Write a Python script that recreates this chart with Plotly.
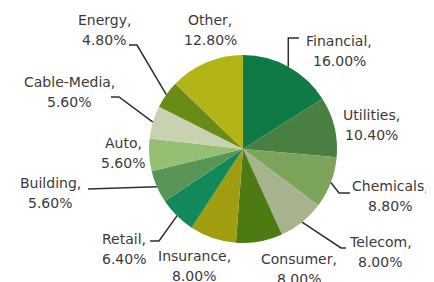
import math
import plotly.graph_objects as go

sectors = ["Financial", "Utilities", "Chemicals", "Telecom", "Consumer", "Insurance",
           "Retail", "Building", "Auto", "Cable-Media", "Energy", "Other"]
weights = [16.00, 10.40, 8.80, 8.00, 8.00, 8.00, 6.40, 5.60, 5.60, 5.60, 4.80, 12.80]
colors = ["#0f7a45", "#4a7f44", "#7ba45a", "#a7b38c", "#4e7a14", "#a09e10",
          "#12895a", "#5a9558", "#96bf74", "#c8d2b0", "#6a8c16", "#b2b515"]

# page offset (browser body margin) and figure size
OFF = 8
W, H = 434 - OFF, 282 - OFF
CX, CY, R = 243, 149, 94

# label block centers (window pixels) and leader elbows (window pixels), layout only
label_pos = {
    "Financial": (339, 51), "Utilities": (371, 125), "Chemicals": (390, 196),
    "Telecom": (380, 252), "Consumer": (299, 269), "Insurance": (194, 266),
    "Retail": (124, 249), "Building": (50, 193), "Auto": (123, 153),
    "Cable-Media": (69, 92), "Energy": (104, 30), "Other": (210, 30),
}
leaders = {
    "Financial": [(299, 38), "elbow_x"],
    "Chemicals": [(350, 193), (339, 193)],
    "Telecom": [(346, 248), (341, 248)],
    "Retail": [(150, 241), (159, 241)],
    "Building": [(88, 189)],
    "Cable-Media": [(111, 97), (119, 97)],
    "Energy": [(129, 45), (137, 45)],
}
LINE_GAP = 20


def px(x):
    return (x - OFF) / W


def py(y):
    return 1 - (y - OFF) / H


fig = go.Figure(go.Pie(
    labels=sectors, values=weights, sort=False, direction="clockwise", rotation=0,
    marker=dict(colors=colors, line=dict(width=0)),
    textinfo="none", hoverinfo="label+percent", showlegend=False,
    domain=dict(x=[px(CX - R), px(CX + R)], y=[py(CY + R), py(CY - R)]),
))

total = sum(weights)
cum = 0
annotations = []
shapes = []
font = dict(family="DejaVu Sans", size=14, color="#3a3a3a")
for name, v in zip(sectors, weights):
    mid = (cum + v / 2) / total * 2 * math.pi
    cum += v
    ex = CX + math.sin(mid) * R
    ey = CY - math.cos(mid) * R
    lx, ly = label_pos[name]
    for txt, dy in ((f"{name},", -LINE_GAP / 2), (f"{v:.2f}%", LINE_GAP / 2)):
        annotations.append(dict(
            x=px(lx), y=py(ly + dy), xref="paper", yref="paper", showarrow=False,
            text=txt, font=font, xanchor="center", yanchor="middle"))
    if name in leaders:
        pts = []
        for p in leaders[name]:
            if p == "elbow_x":
                pts.append((ex, leaders[name][0][1]))
            else:
                pts.append(p)
        pts.append((ex, ey))
        path = "M " + " L ".join(f"{px(a)},{py(b)}" for a, b in pts)
        shapes.append(dict(type="path", path=path, xref="paper", yref="paper",
                           line=dict(color="#2e2e2e", width=1.5)))

fig.update_layout(
    width=W, height=H, margin=dict(l=0, r=0, t=0, b=0),
    paper_bgcolor="white", plot_bgcolor="white",
    annotations=annotations, shapes=shapes,
)
fig.write_html("out.html")
